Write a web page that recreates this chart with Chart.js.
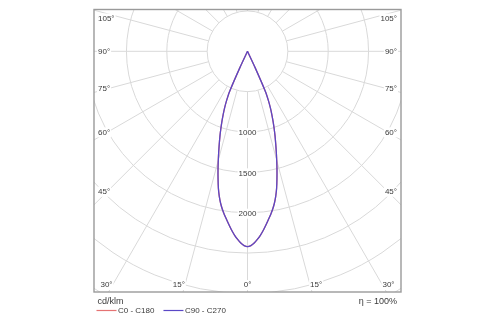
<!DOCTYPE html>
<html>
<head>
<meta charset="utf-8">
<script src="https://cdn.jsdelivr.net/npm/chart.js@4/dist/chart.umd.min.js"></script>
<style>
  html, body { margin: 0; padding: 0; background: #fff; }
  canvas { display: block; }
</style>
</head>
<body>
<canvas id="polar" width="500" height="325"></canvas>
<script>
// Gamma angles measured from nadir (degrees) and luminous intensity (cd/klm)
const gammaAngles = [0, 1, 2, 3, 4, 5, 6, 7, 8, 9, 10, 11, 12, 13, 14, 15, 16, 17, 18, 19, 20, 21, 22, 23, 24, 25, 26];
const intensityC0C180 = [2420, 2408, 2378, 2335, 2286, 2230, 2168, 2106, 2048, 1985, 1915, 1832, 1735,
                         1622, 1510, 1398, 1294, 1195, 1105, 1015, 928, 843, 757, 664, 545, 220, 0];
const intensityC90C270 = [2420, 2408, 2378, 2335, 2286, 2230, 2168, 2106, 2048, 1985, 1915, 1832, 1735,
                          1622, 1510, 1398, 1294, 1195, 1105, 1015, 928, 843, 757, 664, 545, 220, 0];

const planeLabels = ['C0 - C180', 'C90 - C270'];
const planeColors = ['#e57373', '#5a48c6'];

// Polar grid
const ringValues       = [500, 1000, 1500, 2000, 2500, 3000, 3500];
const ringLabelValues  = [1000, 1500, 2000];
const spokeAngles      = [0, 15, 30, 45, 60, 75, 90, 105, 120, 135, 150, 165, 180];
const angleLabelValues = [0, 15, 30, 45, 60, 75, 90, 105];

const unitLabel = 'cd/klm';
const efficiencyLabel = 'η = 100%';

// Visible window of the diagram, in cd/klm units around the luminaire
const X_MIN = -1902, X_MAX = 1902;
const Y_MIN = -2983, Y_MAX = 518;

// Convert a symmetric plane (left half / right half) into cartesian points
function planePoints(values) {
  const pts = [];
  for (let i = gammaAngles.length - 1; i >= 1; i--) {
    const t = gammaAngles[i] * Math.PI / 180;
    pts.push({ x: -values[i] * Math.sin(t), y: -values[i] * Math.cos(t) });
  }
  for (let i = 0; i < gammaAngles.length; i++) {
    const t = gammaAngles[i] * Math.PI / 180;
    pts.push({ x: values[i] * Math.sin(t), y: -values[i] * Math.cos(t) });
  }
  return pts;
}

const LABEL_FONT = '8px "Liberation Sans", Arial, sans-serif';
const TEXT_COLOR = '#3a3a3a';
const GRID_COLOR = '#d9d9d9';

function labelWithBg(ctx, text, x, y, align) {
  const w = ctx.measureText(text).width;
  let left = x;
  if (align === 'center') left = x - w / 2;
  else if (align === 'right') left = x - w;
  ctx.fillStyle = '#fff';
  ctx.fillRect(left - 1, y - 5, w + 2, 10);
  ctx.fillStyle = TEXT_COLOR;
  ctx.textAlign = align;
  ctx.textBaseline = 'middle';
  ctx.fillText(text, x, y);
}

const polarGrid = {
  id: 'polarGrid',
  beforeDatasetsDraw(chart) {
    const { ctx, chartArea: a, scales: { x: xs, y: ys } } = chart;
    const cx = xs.getPixelForValue(0), cy = ys.getPixelForValue(0);
    const k = (xs.getPixelForValue(1000) - cx) / 1000;
    ctx.save();
    ctx.beginPath();
    ctx.rect(a.left, a.top, a.right - a.left, a.bottom - a.top);
    ctx.clip();
    ctx.strokeStyle = GRID_COLOR;
    ctx.lineWidth = 1;
    ringValues.forEach(r => {
      ctx.beginPath();
      ctx.arc(cx, cy, r * k, 0, Math.PI * 2);
      ctx.stroke();
    });
    const rIn = ringValues[0] * k, rOut = 6000 * k;
    spokeAngles.forEach(deg => {
      [-1, 1].forEach(side => {
        const t = deg * Math.PI / 180;
        const dx = side * Math.sin(t), dy = Math.cos(t);
        ctx.beginPath();
        ctx.moveTo(cx + dx * rIn, cy + dy * rIn);
        ctx.lineTo(cx + dx * rOut, cy + dy * rOut);
        ctx.stroke();
      });
    });

    // Intensity values along the nadir axis
    ctx.font = LABEL_FONT;
    ringLabelValues.forEach(r => labelWithBg(ctx, String(r), cx, cy + r * k + 1, 'center'));

    // Gamma angle labels along the frame
    angleLabelValues.forEach(deg => {
      [-1, 1].forEach(side => {
        if (deg === 0 && side === -1) return;
        const text = deg + '°';
        const w = ctx.measureText(text).width;
        const t = deg * Math.PI / 180;
        const ux = Math.sin(t), uy = Math.cos(t);
        const sideX = side > 0 ? a.right - 4 - w / 2 : a.left + 4 + w / 2;
        const probeX = side > 0 ? a.right - 4 - w * 0.75 : a.left + 4 + w * 0.75;
        const bottomY = a.bottom - 7;
        if (ux > 1e-6) {
          const dist = Math.abs(probeX - cx) / ux;
          let y = cy + dist * uy;
          if (y <= bottomY) {
            y = Math.max(y, a.top + 9);
            labelWithBg(ctx, text, sideX, y, 'center');
            return;
          }
        }
        const dist = (bottomY - cy) / uy;
        const sx = cx + side * dist * ux;
        if (deg === 0) labelWithBg(ctx, text, sx, bottomY, 'center');
        else if (side > 0) labelWithBg(ctx, text, Math.min(sx, a.right - 4 - w), bottomY, 'left');
        else labelWithBg(ctx, text, Math.max(sx, a.left + 4 + w), bottomY, 'right');
      });
    });
    ctx.restore();
  },
  afterDraw(chart) {
    const { ctx, chartArea: a } = chart;
    ctx.save();
    ctx.strokeStyle = '#9a9a9a';
    ctx.lineWidth = 1.4;
    ctx.strokeRect(a.left, a.top, a.right - a.left, a.bottom - a.top);

    ctx.fillStyle = TEXT_COLOR;
    ctx.textBaseline = 'middle';
    ctx.font = '9px "Liberation Sans", Arial, sans-serif';
    ctx.textAlign = 'left';
    ctx.fillText(unitLabel, a.left + 3.5, a.bottom + 9.5);
    ctx.textAlign = 'right';
    ctx.fillText(efficiencyLabel, a.right - 4, a.bottom + 9.5);

    // Legend built from the datasets, in declaration order
    ctx.font = '8px "Liberation Sans", Arial, sans-serif';
    const legendY = a.bottom + 18.5;
    let lx = a.left + 2.5;
    chart.data.datasets.forEach(ds => {
      ctx.strokeStyle = ds.borderColor;
      ctx.lineWidth = 1.2;
      ctx.beginPath();
      ctx.moveTo(lx, legendY);
      ctx.lineTo(lx + 20, legendY);
      ctx.stroke();
      ctx.fillStyle = TEXT_COLOR;
      ctx.textAlign = 'left';
      ctx.fillText(ds.label, lx + 21.5, legendY);
      lx += 21.5 + ctx.measureText(ds.label).width + 9;
    });
    ctx.restore();
  }
};

new Chart(document.getElementById('polar'), {
  type: 'scatter',
  data: {
    datasets: [
      { label: planeLabels[0], data: planePoints(intensityC0C180), order: 2,
        borderColor: planeColors[0], showLine: true, pointRadius: 0, borderWidth: 1.3, tension: 0.2, fill: false },
      { label: planeLabels[1], data: planePoints(intensityC90C270), order: 1,
        borderColor: planeColors[1], showLine: true, pointRadius: 0, borderWidth: 1.3, tension: 0.2, fill: false }
    ]
  },
  options: {
    responsive: false,
    devicePixelRatio: 1,
    animation: false,
    layout: { padding: { left: 94, right: 99, top: 9.5, bottom: 33 } },
    scales: {
      x: { type: 'linear', min: X_MIN, max: X_MAX, display: false },
      y: { type: 'linear', min: Y_MIN, max: Y_MAX, display: false }
    },
    plugins: { legend: { display: false }, tooltip: { enabled: false } }
  },
  plugins: [polarGrid]
});
</script>
</body>
</html>
